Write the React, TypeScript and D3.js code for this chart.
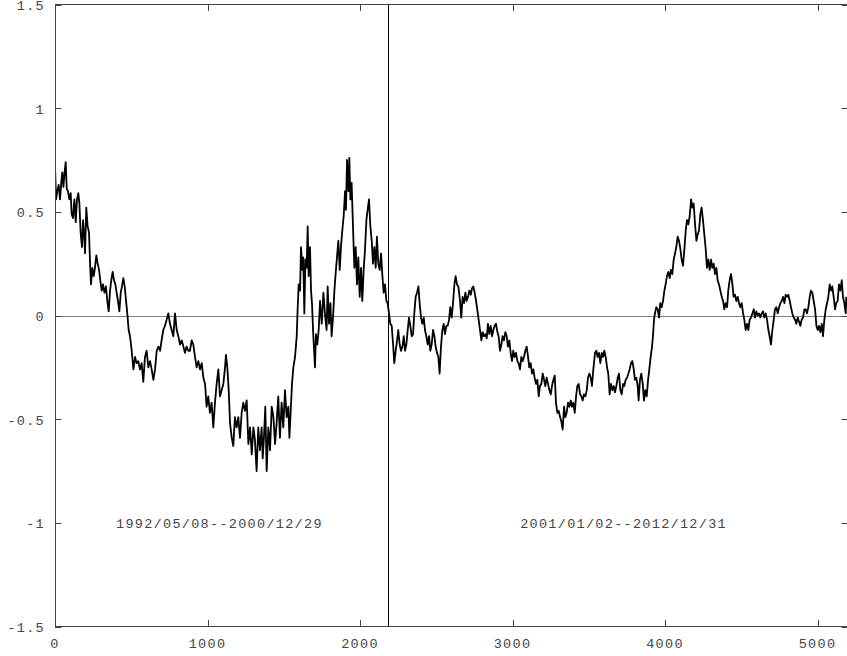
import React, { useEffect, useRef } from 'react';
import * as d3 from 'd3';

// readings: [trading day index, value]
const firstPeriod: [number, number][] = [
  [0, 0.72], [7, 0.56], [15, 0.6], [24, 0.63], [33, 0.56], [42, 0.65], [48, 0.69], [55, 0.62],
  [63, 0.69], [70, 0.74], [77, 0.61], [85, 0.6], [94, 0.56], [103, 0.59], [109, 0.49], [118, 0.47],
  [127, 0.56], [136, 0.45], [144, 0.56], [153, 0.59], [160, 0.54], [168, 0.4], [177, 0.33], [184, 0.46],
  [190, 0.4], [197, 0.3], [205, 0.52], [214, 0.43], [223, 0.4], [230, 0.25], [236, 0.15], [245, 0.23],
  [254, 0.19], [262, 0.23], [271, 0.29], [280, 0.25], [289, 0.22], [297, 0.17], [306, 0.12], [315, 0.15],
  [324, 0.11], [334, 0.14], [343, 0.07], [352, 0.02], [361, 0.12], [369, 0.17], [378, 0.21], [387, 0.17],
  [396, 0.15], [404, 0.11], [413, 0.07], [422, 0.02], [431, 0.11], [439, 0.14], [448, 0.18], [457, 0.14],
  [466, 0.07], [474, 0.01], [483, -0.07], [492, -0.1], [503, -0.17], [514, -0.26], [525, -0.2], [535, -0.23],
  [546, -0.22], [557, -0.26], [568, -0.23], [579, -0.32], [590, -0.2], [601, -0.17], [612, -0.25], [623, -0.22],
  [634, -0.26], [645, -0.31], [656, -0.26], [667, -0.17], [678, -0.15], [689, -0.17], [699, -0.12], [710, -0.07],
  [721, -0.05], [732, -0.02], [743, 0.01], [754, -0.04], [765, -0.07], [776, -0.1], [787, 0.01], [798, -0.07],
  [809, -0.1], [820, -0.14], [831, -0.12], [842, -0.15], [852, -0.18], [863, -0.15], [874, -0.17], [885, -0.17],
  [896, -0.12], [907, -0.14], [918, -0.2], [929, -0.25], [940, -0.22], [951, -0.26], [962, -0.23], [973, -0.3],
  [984, -0.33], [994, -0.44], [1005, -0.39], [1016, -0.47], [1027, -0.42], [1038, -0.54], [1049, -0.42], [1060, -0.33],
  [1071, -0.26], [1082, -0.39], [1093, -0.36], [1104, -0.33], [1115, -0.25], [1121, -0.19], [1130, -0.25], [1139, -0.36],
  [1148, -0.52], [1159, -0.59], [1169, -0.63], [1180, -0.49], [1191, -0.54], [1202, -0.49], [1213, -0.59], [1224, -0.47],
  [1235, -0.42], [1246, -0.46], [1257, -0.41], [1268, -0.62], [1279, -0.54], [1290, -0.67], [1301, -0.54], [1311, -0.6],
  [1322, -0.75], [1333, -0.54], [1344, -0.65], [1355, -0.54], [1362, -0.69], [1370, -0.59], [1379, -0.44], [1388, -0.75],
  [1399, -0.54], [1410, -0.65], [1421, -0.44], [1432, -0.49], [1443, -0.62], [1453, -0.52], [1464, -0.39], [1475, -0.59],
  [1486, -0.42], [1497, -0.54], [1508, -0.36], [1519, -0.49], [1530, -0.44], [1537, -0.59], [1545, -0.47], [1554, -0.33],
  [1563, -0.25], [1574, -0.2], [1585, -0.1], [1591, 0.03], [1598, 0.15], [1607, 0.12], [1613, 0.33], [1622, 0.22],
  [1628, 0.28], [1635, 0.01], [1642, 0.27], [1650, 0.23], [1657, 0.43], [1663, 0.19], [1672, 0.33], [1679, 0.12],
  [1685, 0.06], [1694, -0.1], [1705, -0.25], [1711, -0.09], [1720, -0.14], [1729, -0.07], [1738, 0.07], [1749, -0.04],
  [1760, 0.11], [1770, 0.01], [1781, -0.07], [1788, 0.14], [1797, -0.04], [1806, 0.06], [1814, -0.1], [1823, -0.01],
  [1832, 0.12], [1840, 0.2], [1849, 0.28], [1858, 0.36], [1867, 0.22], [1875, 0.33], [1884, 0.41], [1893, 0.48],
  [1902, 0.6], [1908, 0.51], [1915, 0.75], [1924, 0.6], [1930, 0.76], [1937, 0.56], [1945, 0.64], [1954, 0.43],
  [1963, 0.23], [1972, 0.33], [1980, 0.15], [1989, 0.28], [1998, 0.09], [2007, 0.23], [2015, 0.07], [2024, 0.22],
  [2033, 0.32], [2042, 0.46], [2050, 0.51], [2059, 0.56], [2068, 0.43], [2077, 0.36], [2085, 0.25], [2094, 0.33],
  [2103, 0.23], [2111, 0.38], [2120, 0.25], [2129, 0.22], [2138, 0.3], [2147, 0.19], [2155, 0.11], [2164, 0.15],
  [2173, 0.07], [2181, 0.06],
];

const secondPeriod: [number, number][] = [
  [2190, 0.01], [2199, -0.04], [2208, -0.05], [2217, -0.14], [2225, -0.23], [2234, -0.17], [2243, -0.12], [2251, -0.07],
  [2260, -0.14], [2269, -0.17], [2278, -0.15], [2287, -0.1], [2295, -0.17], [2304, -0.14], [2313, -0.07], [2321, -0.01],
  [2330, -0.05], [2339, -0.1], [2348, -0.09], [2356, 0.01], [2365, 0.09], [2374, 0.11], [2383, 0.14], [2391, 0.06],
  [2400, -0.01], [2409, -0.04], [2418, -0.01], [2426, -0.07], [2435, -0.1], [2444, -0.14], [2453, -0.1], [2461, -0.17],
  [2470, -0.14], [2479, -0.07], [2488, -0.1], [2496, -0.15], [2505, -0.18], [2514, -0.2], [2522, -0.28], [2531, -0.15],
  [2540, -0.07], [2549, -0.04], [2557, -0.09], [2566, -0.05], [2575, -0.05], [2584, -0.02], [2592, 0.04], [2601, -0.01],
  [2610, 0.06], [2619, 0.15], [2627, 0.19], [2636, 0.15], [2645, 0.14], [2656, 0.07], [2664, -0.01], [2673, 0.09],
  [2682, 0.06], [2691, 0.11], [2699, 0.07], [2708, 0.09], [2717, 0.12], [2726, 0.1], [2734, 0.13], [2743, 0.14],
  [2752, 0.11], [2761, 0.07], [2769, 0.03], [2778, -0.02], [2787, -0.07], [2796, -0.12], [2804, -0.08], [2813, -0.1],
  [2822, -0.09], [2831, -0.11], [2839, -0.04], [2848, -0.09], [2857, -0.05], [2866, -0.1], [2874, -0.07], [2883, -0.05],
  [2892, -0.04], [2901, -0.08], [2909, -0.1], [2918, -0.17], [2927, -0.14], [2935, -0.1], [2944, -0.12], [2953, -0.08],
  [2962, -0.1], [2970, -0.15], [2979, -0.12], [2988, -0.18], [2997, -0.22], [3005, -0.17], [3014, -0.2], [3023, -0.18],
  [3032, -0.22], [3040, -0.23], [3049, -0.26], [3058, -0.2], [3067, -0.22], [3075, -0.2], [3084, -0.17], [3093, -0.15],
  [3102, -0.2], [3110, -0.25], [3119, -0.23], [3128, -0.28], [3137, -0.26], [3145, -0.3], [3154, -0.33], [3163, -0.31],
  [3172, -0.39], [3180, -0.34], [3189, -0.33], [3198, -0.28], [3207, -0.31], [3215, -0.34], [3224, -0.3], [3233, -0.33],
  [3242, -0.36], [3251, -0.38], [3259, -0.34], [3268, -0.31], [3277, -0.29], [3285, -0.42], [3294, -0.47], [3303, -0.46],
  [3312, -0.49], [3320, -0.51], [3329, -0.55], [3338, -0.44], [3346, -0.49], [3355, -0.47], [3364, -0.42], [3373, -0.44],
  [3382, -0.41], [3390, -0.44], [3399, -0.42], [3408, -0.47], [3417, -0.39], [3425, -0.34], [3434, -0.33], [3443, -0.38],
  [3452, -0.39], [3460, -0.41], [3469, -0.38], [3478, -0.39], [3487, -0.36], [3495, -0.3], [3504, -0.28], [3513, -0.3],
  [3521, -0.34], [3530, -0.26], [3541, -0.18], [3550, -0.17], [3558, -0.2], [3567, -0.18], [3576, -0.23], [3585, -0.18],
  [3593, -0.2], [3602, -0.17], [3611, -0.2], [3620, -0.25], [3628, -0.28], [3637, -0.38], [3646, -0.33], [3655, -0.36],
  [3664, -0.34], [3672, -0.37], [3681, -0.34], [3690, -0.3], [3698, -0.28], [3707, -0.36], [3716, -0.38], [3725, -0.33],
  [3733, -0.34], [3742, -0.31], [3751, -0.3], [3760, -0.28], [3768, -0.26], [3777, -0.23], [3786, -0.22], [3795, -0.26],
  [3803, -0.31], [3812, -0.3], [3821, -0.34], [3827, -0.41], [3836, -0.31], [3845, -0.28], [3854, -0.33], [3862, -0.41],
  [3871, -0.36], [3880, -0.39], [3889, -0.31], [3897, -0.26], [3906, -0.2], [3915, -0.15], [3921, -0.1], [3928, -0.02],
  [3934, 0.01], [3943, 0.04], [3952, 0.03], [3961, -0.01], [3969, 0.06], [3978, 0.04], [3987, 0.07], [3996, 0.12],
  [4004, 0.15], [4013, 0.19], [4022, 0.21], [4031, 0.18], [4039, 0.22], [4048, 0.2], [4057, 0.27], [4066, 0.3],
  [4074, 0.33], [4083, 0.38], [4092, 0.36], [4101, 0.32], [4109, 0.27], [4118, 0.24], [4127, 0.32], [4136, 0.41],
  [4144, 0.46], [4153, 0.44], [4162, 0.48], [4171, 0.56], [4179, 0.52], [4188, 0.54], [4197, 0.44], [4206, 0.36],
  [4214, 0.39], [4223, 0.41], [4232, 0.49], [4240, 0.52], [4249, 0.46], [4258, 0.39], [4267, 0.32], [4275, 0.23],
  [4284, 0.27], [4293, 0.22], [4302, 0.27], [4310, 0.23], [4319, 0.25], [4328, 0.2], [4337, 0.23], [4345, 0.17],
  [4354, 0.15], [4363, 0.12], [4372, 0.09], [4381, 0.07], [4389, 0.03], [4398, 0.06], [4407, 0.04], [4415, 0.12],
  [4424, 0.17], [4433, 0.2], [4442, 0.15], [4450, 0.09], [4459, 0.1], [4468, 0.07], [4477, 0.09], [4485, 0.06],
  [4494, 0.04], [4503, 0.06], [4512, 0.01], [4520, -0.02], [4529, -0.07], [4538, -0.04], [4547, -0.07], [4555, -0.02],
  [4564, -0.01], [4573, 0.01], [4582, 0.03], [4590, -0.01], [4599, 0.02], [4608, 0.0], [4617, 0.01], [4625, -0.01],
  [4634, 0.01], [4643, 0.02], [4651, -0.01], [4660, 0.01], [4669, -0.02], [4678, -0.07], [4686, -0.1], [4695, -0.14],
  [4704, -0.07], [4713, -0.02], [4721, 0.03], [4730, 0.04], [4739, 0.01], [4748, 0.04], [4757, 0.06], [4765, 0.07],
  [4774, 0.09], [4783, 0.06], [4791, 0.1], [4800, 0.09], [4809, 0.1], [4818, 0.07], [4826, 0.04], [4835, 0.01],
  [4844, -0.01], [4853, -0.02], [4861, -0.04], [4870, -0.01], [4879, -0.03], [4888, -0.05], [4896, -0.02], [4905, -0.01],
  [4914, 0.03], [4922, 0.03], [4931, 0.01], [4940, 0.04], [4949, 0.09], [4957, 0.12], [4966, 0.11], [4975, 0.07],
  [4984, 0.03], [4993, -0.05], [5002, -0.07], [5010, -0.05], [5019, -0.08], [5028, -0.04], [5036, -0.1], [5045, -0.02],
  [5054, 0.03], [5063, 0.06], [5071, 0.09], [5080, 0.15], [5089, 0.12], [5097, 0.14], [5106, 0.09], [5115, 0.03],
  [5123, 0.06], [5132, 0.07], [5141, 0.15], [5150, 0.12], [5159, 0.17], [5167, 0.09], [5176, 0.06], [5185, 0.01],
  [5189, 0.09],
];

const breakIndex = 2185;
const xTicks = [0, 1000, 2000, 3000, 4000, 5000];
const yTicks = [-1.5, -1, -0.5, 0, 0.5, 1, 1.5];
const periodLabels: { text: string; at: [number, number] }[] = [
  { text: '1992/05/08--2000/12/29', at: [400, -1] },
  { text: '2001/01/02--2012/12/31', at: [3050, -1] },
];

export default function App() {
  const svgRef = useRef<SVGSVGElement>(null);
  const width = 847;
  const height = 656;

  useEffect(() => {
    if (!svgRef.current) return;
    const svg = d3.select(svgRef.current);
    svg.selectAll('*').remove();

    const left = 55, right = 848, top = 4.5, bottom = 626.5;
    const x = d3.scaleLinear().domain([0, 5200]).range([left, right]);
    const y = d3.scaleLinear().domain([-1.5, 1.5]).range([bottom, top]);
    const font = "'Liberation Mono', 'DejaVu Sans Mono', monospace";
    const tickLen = 6.5;

    svg.append('defs').append('clipPath').attr('id', 'plot-clip')
      .append('rect')
      .attr('x', left).attr('y', top)
      .attr('width', right - left).attr('height', bottom - top);

    // zero line
    svg.append('line')
      .attr('x1', left).attr('x2', right)
      .attr('y1', Math.round(y(0)) + 0.5).attr('y2', Math.round(y(0)) + 0.5)
      .attr('stroke', '#808080').attr('stroke-width', 1.2);

    // period split
    svg.append('line')
      .attr('x1', Math.round(x(breakIndex)) + 0.5).attr('x2', Math.round(x(breakIndex)) + 0.5)
      .attr('y1', top).attr('y2', bottom)
      .attr('stroke', '#000').attr('stroke-width', 1);

    const line = d3.line<[number, number]>()
      .x(d => x(d[0]))
      .y(d => y(d[1]));

    svg.append('path')
      .datum([...firstPeriod, ...secondPeriod])
      .attr('clip-path', 'url(#plot-clip)')
      .attr('d', line)
      .attr('fill', 'none')
      .attr('stroke', '#000')
      .attr('stroke-width', 1.8)
      .attr('stroke-linejoin', 'round');

    // frame
    svg.append('rect')
      .attr('x', left + 0.5).attr('y', top)
      .attr('width', right - left).attr('height', bottom - top)
      .attr('fill', 'none').attr('stroke', '#444').attr('stroke-width', 1);

    const ticks = svg.append('g').attr('stroke', '#444').attr('stroke-width', 1);
    xTicks.forEach(t => {
      const px = Math.round(x(t)) + 0.5;
      ticks.append('line').attr('x1', px).attr('x2', px).attr('y1', bottom).attr('y2', bottom - tickLen);
      ticks.append('line').attr('x1', px).attr('x2', px).attr('y1', top).attr('y2', top + tickLen);
    });
    yTicks.forEach(t => {
      const py = Math.round(y(t)) + 0.5;
      ticks.append('line').attr('x1', left).attr('x2', left + tickLen).attr('y1', py).attr('y2', py);
      ticks.append('line').attr('x1', right).attr('x2', right - tickLen).attr('y1', py).attr('y2', py);
    });

    const labels = svg.append('g')
      .attr('font-family', font)
      .attr('font-size', 13.5)
      .attr('letter-spacing', 1.3)
      .attr('fill', '#444');

    xTicks.forEach(t => {
      labels.append('text')
        .attr('x', x(t)).attr('y', 648)
        .attr('text-anchor', 'middle')
        .text(String(t));
    });
    yTicks.forEach(t => {
      labels.append('text')
        .attr('x', 45).attr('y', y(t) + 5.5)
        .attr('text-anchor', 'end')
        .text(String(t));
    });
    periodLabels.forEach(l => {
      labels.append('text')
        .attr('x', x(l.at[0])).attr('y', y(l.at[1]) + 5)
        .text(l.text);
    });
  }, []);

  return (
    <div style={{ position: 'absolute', left: 0, top: 0, width, height, background: '#fff' }}>
      <svg ref={svgRef} width={width} height={height}></svg>
    </div>
  );
}
